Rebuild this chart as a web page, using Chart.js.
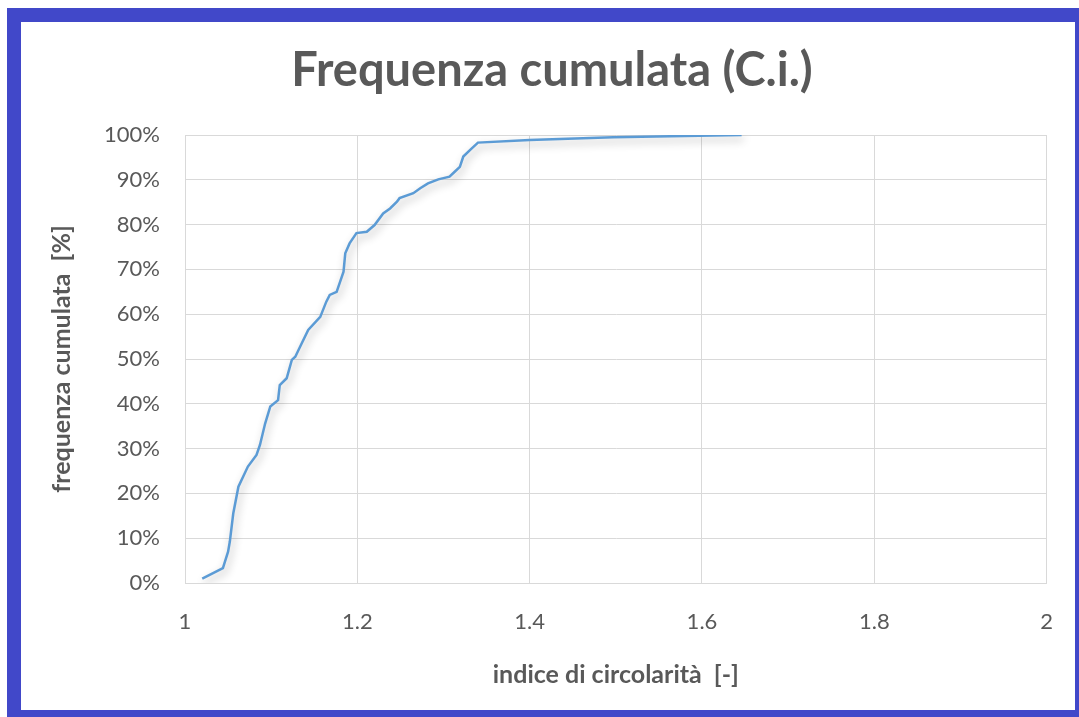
<!DOCTYPE html>
<html>
<head>
<meta charset="utf-8">
<script src="https://cdn.jsdelivr.net/npm/chart.js@4.4.1/dist/chart.umd.min.js"></script>
<style>
  html, body { margin: 0; padding: 0; background: #ffffff; }
  #wrap { width: 1079px; height: 717px; position: relative; }
</style>
</head>
<body>
<div id="wrap"><canvas id="c" width="1079" height="717"></canvas></div>
<script>
// Circularity index (x) and cumulative frequency in % (y)
const circularityIndex = [1.020, 1.044, 1.050, 1.052, 1.056, 1.062, 1.073, 1.083, 1.087, 1.093,
  1.099, 1.108, 1.110, 1.118, 1.124, 1.128, 1.133, 1.143, 1.157, 1.164,
  1.168, 1.176, 1.184, 1.186, 1.191, 1.199, 1.211, 1.220, 1.230, 1.238,
  1.246, 1.249, 1.265, 1.273, 1.282, 1.294, 1.307, 1.313, 1.319, 1.323,
  1.331, 1.340, 1.400, 1.497, 1.646];
const cumulativeFreq = [1.0, 3.3, 7.0, 9.2, 15.5, 21.5, 26.0, 28.6, 30.8, 35.6,
  39.4, 40.8, 44.2, 45.7, 49.8, 50.5, 52.5, 56.5, 59.4, 62.8,
  64.3, 65.0, 69.5, 73.6, 75.8, 78.1, 78.4, 79.9, 82.5, 83.6,
  85.1, 85.9, 87.0, 88.1, 89.2, 90.1, 90.7, 91.8, 92.9, 95.2,
  96.7, 98.3, 98.9, 99.5, 100.0];

const chartTitle = 'Frequenza cumulata (C.i.)';
const xAxisTitle = 'indice di circolarità  [-]';
const yAxisTitle = 'frequenza cumulata  [%]';
const xTicks = [1, 1.2, 1.4, 1.6, 1.8, 2];
const yTicks = [0, 10, 20, 30, 40, 50, 60, 70, 80, 90, 100];

const points = circularityIndex.map((x, i) => ({ x: x, y: cumulativeFreq[i] }));

const GREY = '#595959';
const GRID = '#d9d9d9';
const FONT = 'Lato, "Open Sans", sans-serif';

const framePlugin = {
  id: 'frame',
  beforeDraw(chart) {
    const ctx = chart.ctx;
    ctx.save();
    ctx.fillStyle = '#ffffff';
    ctx.fillRect(0, 0, chart.width, chart.height);
    ctx.strokeStyle = '#4148c9';
    ctx.lineWidth = 14;
    ctx.strokeRect(14, 15, 1068, 702);
    ctx.restore();
  }
};

const shadowPlugin = {
  id: 'lineShadow',
  beforeDatasetsDraw(chart) {
    const ctx = chart.ctx;
    ctx.save();
    ctx.shadowColor = 'rgba(0,0,0,0.3)';
    ctx.shadowBlur = 8;
    ctx.shadowOffsetX = 2;
    ctx.shadowOffsetY = 4;
  },
  afterDatasetsDraw(chart) {
    chart.ctx.restore();
  }
};

new Chart(document.getElementById('c'), {
  type: 'scatter',
  data: {
    datasets: [{
      label: 'Frequenza cumulata',
      data: points,
      showLine: true,
      borderColor: '#5b9bd5',
      backgroundColor: '#5b9bd5',
      borderWidth: 2.5,
      pointRadius: 0,
      tension: 0
    }]
  },
  options: {
    responsive: false,
    animation: false,
    devicePixelRatio: 1,
    layout: { padding: { left: 57, top: 22, right: 32, bottom: 7 } },
    plugins: {
      legend: { display: false },
      tooltip: { enabled: false },
      title: {
        display: true,
        text: chartTitle,
        color: GREY,
        font: { family: FONT, size: 47, weight: 'bold', lineHeight: 1.2 },
        padding: { top: 21, bottom: 35.6 }
      }
    },
    scales: {
      x: {
        type: 'linear',
        min: 1, max: 2,
        afterBuildTicks(scale) { scale.ticks = xTicks.map(v => ({ value: v })); },
        afterFit(scale) { scale.height = 127; },
        grid: { color: GRID, lineWidth: 1, drawTicks: false },
        border: { color: GRID },
        ticks: {
          color: GREY, padding: 26,
          font: { family: FONT, size: 22 },
          maxRotation: 0,
          callback: v => String(v)
        },
        title: {
          display: true, text: xAxisTitle, color: GREY,
          font: { family: FONT, size: 25, weight: 'bold', lineHeight: 1.2 },
          padding: { top: 0, bottom: 20 }
        }
      },
      y: {
        type: 'linear',
        min: 0, max: 100,
        afterBuildTicks(scale) { scale.ticks = yTicks.map(v => ({ value: v })); },
        afterFit(scale) { scale.width = 128; },
        grid: { color: GRID, lineWidth: 1, drawTicks: false },
        border: { color: GRID },
        ticks: {
          color: GREY, padding: 25,
          font: { family: FONT, size: 22 },
          callback: v => v + '%'
        },
        title: {
          display: true, text: yAxisTitle, color: GREY,
          font: { family: FONT, size: 25, weight: 'bold', lineHeight: 1.2 },
          padding: { top: -10, bottom: 0 }
        }
      }
    }
  },
  plugins: [framePlugin, shadowPlugin]
});
</script>
</body>
</html>
